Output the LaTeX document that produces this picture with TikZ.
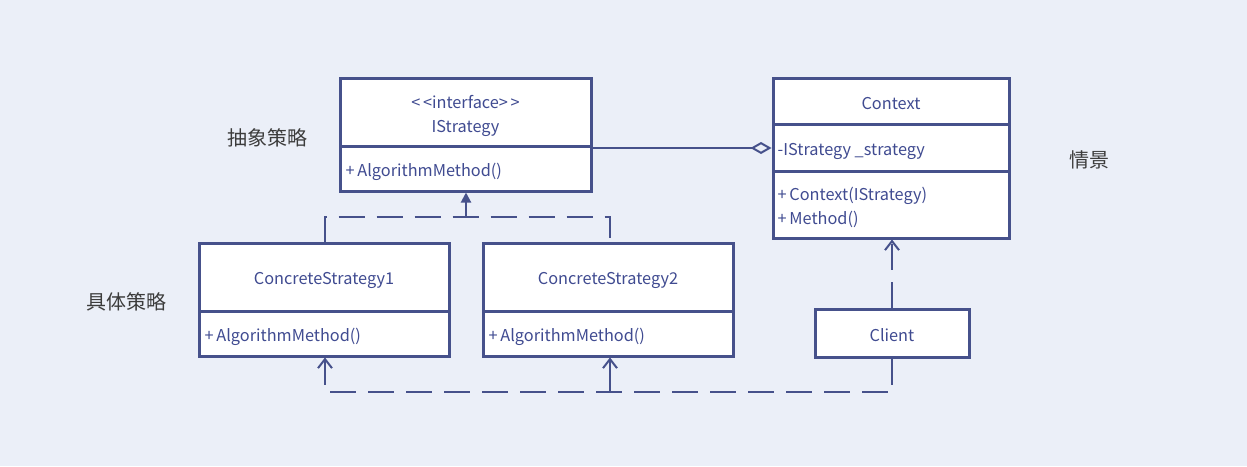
\documentclass[tikz,border=0pt]{standalone}
\usepackage{fontspec}
\setmainfont{Noto Sans CJK SC}
\usetikzlibrary{arrows.meta}
\definecolor{bg}{RGB}{235,239,248}
\definecolor{ln}{RGB}{70,81,139}
\definecolor{tx}{RGB}{64,75,145}
\definecolor{lb}{RGB}{60,60,60}
\tikzset{
  comp/.style={draw=ln, line width=3pt, fill=white, inner sep=0pt},
  txt/.style={text=tx, inner sep=0pt, font=\fontsize{16.3}{24}\selectfont},
  txtc/.style={txt, align=center},
  txtl/.style={txt, align=left, anchor=west},
  lbl/.style={text=lb, font=\fontsize{20}{22}\selectfont},
  conn/.style={draw=ln, line width=2pt},
  dsh/.style={conn, dash pattern=on 26pt off 12pt},
  openarr/.style={-{Straight Barb[length=9pt,width=14pt,line width=2pt]}},
}
\begin{document}
\begin{tikzpicture}[x=1pt,y=-1pt]
\fill[bg] (0,0) rectangle (1247,466);
\useasboundingbox (0,0) rectangle (1247,466);
% IStrategy
\node[comp, minimum width=251pt, minimum height=68pt] (ist) at (465.5,112) {};
\node[comp, minimum width=251pt, minimum height=45pt] (ism) at (465.5,168.5) {};
\node[txtc] (istx) at ([yshift=-3.5pt]ist.center) {<\,<interface>\,>\\IStrategy};
\node[txtl] (ismx) at ([xshift=7pt,yshift=-3.5pt]ism.west) {+\,AlgorithmMethod()};
% Context
\node[comp, minimum width=236pt, minimum height=47pt] (ctt) at (891,101.5) {};
\node[comp, minimum width=236pt, minimum height=47pt] (cta) at (891,148) {};
\node[comp, minimum width=236pt, minimum height=67pt] (ctm) at (891,204.5) {};
\node[txtc] (cttx) at ([yshift=-2pt]ctt.center) {Context};
\node[txtl] (ctax) at ([xshift=6pt,yshift=-3pt]cta.west) {-IStrategy \_strategy};
\node[txtl] (ctmx) at ([xshift=6pt,yshift=-3pt]ctm.west) {+\,Context(IStrategy)\\+\,Method()};
% ConcreteStrategy1
\node[comp, minimum width=250pt, minimum height=68pt] (c1t) at (324,277) {};
\node[comp, minimum width=250pt, minimum height=45pt] (c1m) at (324,333.5) {};
\node[txtc] (c1tx) at ([yshift=-3.5pt]c1t.center) {ConcreteStrategy1};
\node[txtl] (c1mx) at ([xshift=7pt,yshift=-3.5pt]c1m.west) {+\,AlgorithmMethod()};
% ConcreteStrategy2
\node[comp, minimum width=250pt, minimum height=68pt] (c2t) at (608,277) {};
\node[comp, minimum width=250pt, minimum height=45pt] (c2m) at (608,333.5) {};
\node[txtc] (c2tx) at ([yshift=-3.5pt]c2t.center) {ConcreteStrategy2};
\node[txtl] (c2mx) at ([xshift=7pt,yshift=-3.5pt]c2m.west) {+\,AlgorithmMethod()};
% Client
\node[comp, minimum width=154pt, minimum height=48pt] (cl) at (892,333) {};
\node[txtc] (clx) at ([yshift=-2pt]cl.center) {Client};
% labels
\node[lbl] (l1) at (267,138) {抽象策略};
\node[lbl] (l2) at (126,302) {具体策略};
\node[lbl] (l3) at (1089,160) {情景};
% aggregation
\draw[conn, -{Diamond[open,length=21pt,width=12pt,line width=2pt]}] (ism.north east |- 0,148) coordinate (ag) -- (ag -| cta.west);
% realization
\coordinate (j) at (466,217);
\draw[dsh] (c1t.north -| 325,0) |- (j) -| (c2t.north -| 610,0);
\draw[conn, -{Triangle[length=10pt,width=10pt]}] (j) -- (ism.south -| j);
% client -> context
\draw[dsh, openarr] (cl.north) -- (ctm.south -| cl.north);
% client -> concretes
\coordinate (b) at (892,392);
\coordinate (b2) at (610,392);
\draw[dsh, openarr] (cl.south) -- (b) -| (c1m.south -| 325,0);
\draw[conn, openarr] (b2) -- (c2m.south -| b2);
\end{tikzpicture}
\end{document}
